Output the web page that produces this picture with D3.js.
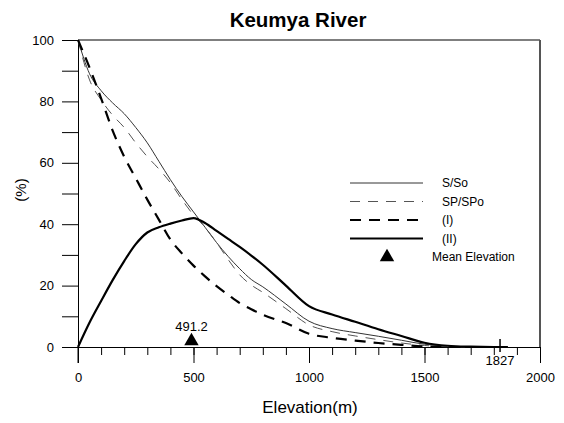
<!DOCTYPE html>
<html lang="en">
  <head>
    <meta charset="utf-8">
    <title>Keumya River</title>
    <script src="https://d3js.org/d3.v7.min.js"></script>
    <style>
      body { margin: 0; background: #fff; font-family: 'Liberation Sans', Arial, sans-serif; }
      svg text { font-family: 'Liberation Sans', Arial, sans-serif; fill: #000; }
      .axis path, .axis line { stroke: #000; }
    </style>
  </head>
  <body>
    <div id="chart"></div>
    <script>
      // elevation (m) sample points
      var elev = [0, 50, 100, 150, 200, 250, 300, 350, 400, 450, 500, 550, 600, 650, 700, 750, 800, 900, 1000, 1100, 1200, 1300, 1400, 1500, 1600, 1700, 1800, 1860];
      // S/So (%)
      var sSo  = [100, 89, 83.5, 79.5, 76, 71.5, 66.5, 60.5, 54.5, 49, 44, 39, 34, 29.5, 25.5, 22, 19.6, 14, 8.4, 6, 4.7, 3.5, 2.2, 0.9, 0.3, 0.1, 0, 0];
      // SP/SPo (%)
      var spSpo = [100, 87, 80.5, 75.5, 71.5, 66.5, 62, 58, 53.5, 48, 43, 39, 34, 28.5, 23.5, 20.2, 17.8, 12.5, 7.2, 5, 3.6, 2.4, 1.3, 0.5, 0.1, 0, 0, 0];
      // (I)
      var typeI = [100, 91, 81, 70.5, 62, 55, 48, 41.5, 35, 30.5, 26.5, 23, 19.8, 17, 14.3, 12.3, 10.5, 7.8, 4.3, 3, 2.1, 1.3, 0.7, 0.2, 0, 0, 0, 0];
      // (II)
      var typeII = [0, 8, 15, 21.8, 28, 33.5, 37.3, 39, 40.2, 41.2, 42, 40.4, 37.8, 35.2, 32.6, 29.8, 26.8, 20, 13.3, 10.6, 8.2, 5.8, 3.6, 1.4, 0.4, 0.1, 0, 0];

      var meanElev = 491.2;
      var maxElev = 1827;
      var yTicks = [0, 10, 20, 30, 40, 50, 60, 70, 80, 90, 100];
      var xMajor = [0, 500, 1000, 1500, 2000];
      var xMinor = d3.range(0, 2001, 100);

      var series = [
        {name: "S/So",   values: sSo,    color: "#333", width: 1,   dash: null},
        {name: "SP/SPo", values: spSpo,  color: "#555", width: 1,   dash: "10,8"},
        {name: "(I)",    values: typeI,  color: "#000", width: 2.2, dash: "11,8"},
        {name: "(II)",   values: typeII, color: "#000", width: 2.2, dash: null}
      ];

      var W = 564, H = 423;
      var svg = d3.select("#chart").append("svg")
        .attr("width", W).attr("height", H);

      var x = d3.scaleLinear().domain([0, 2000]).range([78, 540]);
      var y = d3.scaleLinear().domain([0, 100]).range([347, 40]);

      // title
      svg.append("text")
        .attr("x", 298).attr("y", 27)
        .attr("text-anchor", "middle")
        .style("font-size", "20.5px").style("font-weight", "bold")
        .text("Keumya River");

      // frame: top and right
      svg.append("line").attr("x1", x(0)).attr("x2", x(2000)).attr("y1", y(100)).attr("y2", y(100))
        .attr("stroke", "#000").attr("stroke-width", 1.2);
      svg.append("line").attr("x1", x(2000)).attr("x2", x(2000)).attr("y1", y(100)).attr("y2", y(0))
        .attr("stroke", "#555").attr("stroke-width", 2);

      // y axis
      var yAxis = d3.axisLeft(y).tickValues(yTicks).tickSize(16).tickSizeOuter(0).tickPadding(8)
        .tickFormat(function(d) { return d % 20 === 0 ? d : ""; });
      var gy = svg.append("g").attr("class", "axis").attr("transform", "translate(" + x(0) + ",0)").call(yAxis);
      gy.selectAll("text").style("font-size", "13px");

      // x axis minor ticks
      var xAxisMinor = d3.axisBottom(x).tickValues(xMinor).tickSize(8).tickSizeOuter(0).tickFormat("");
      svg.append("g").attr("class", "axis").attr("transform", "translate(0," + y(0) + ")").call(xAxisMinor);

      // x axis major ticks
      var xAxis = d3.axisBottom(x).tickValues(xMajor).tickSize(16).tickSizeOuter(0).tickPadding(10)
        .tickFormat(d3.format("d"));
      var gx = svg.append("g").attr("class", "axis").attr("transform", "translate(0," + y(0) + ")").call(xAxis);
      gx.select(".domain").remove();
      gx.selectAll("text").style("font-size", "13px");
      // extend y axis below baseline
      svg.append("line").attr("x1", x(0)).attr("x2", x(0)).attr("y1", y(0)).attr("y2", y(0) + 16).attr("stroke", "#000");

      svg.append("text")
        .attr("x", 310).attr("y", 413)
        .attr("text-anchor", "middle")
        .style("font-size", "17px")
        .text("Elevation(m)");

      svg.append("text")
        .attr("transform", "translate(26,190) rotate(-90)")
        .attr("text-anchor", "middle")
        .style("font-size", "15px")
        .text("(%)");

      // curves
      var line = d3.line()
        .x(function(d) { return x(d[0]); })
        .y(function(d) { return y(d[1]); })
        .curve(d3.curveMonotoneX);

      series.forEach(function(s) {
        svg.append("path")
          .datum(elev.map(function(e, i) { return [e, s.values[i]]; }))
          .attr("d", line)
          .attr("fill", "none")
          .attr("stroke", s.color)
          .attr("stroke-width", s.width)
          .attr("stroke-dasharray", s.dash);
      });

      // mean elevation marker
      var tri = d3.symbol().type(d3.symbolTriangle).size(90);
      svg.append("path")
        .attr("d", tri)
        .attr("transform", "translate(" + x(meanElev) + "," + (y(0) - 6) + ")")
        .attr("fill", "#000");
      svg.append("text")
        .attr("x", x(meanElev)).attr("y", y(0) - 16)
        .attr("text-anchor", "middle").style("font-size", "13px")
        .text(meanElev.toFixed(1));

      // max elevation marker
      svg.append("line")
        .attr("x1", x(maxElev)).attr("x2", x(maxElev))
        .attr("y1", y(0) - 8).attr("y2", y(0) + 5)
        .attr("stroke", "#000").attr("stroke-width", 1.5);
      svg.append("text")
        .attr("x", x(maxElev)).attr("y", y(0) + 18)
        .attr("text-anchor", "middle").style("font-size", "13px")
        .text(maxElev);

      // legend
      var leg = svg.append("g").attr("transform", "translate(350,183)");
      series.forEach(function(s, i) {
        var g = leg.append("g").attr("transform", "translate(0," + (i * 18.5) + ")");
        g.append("line").attr("x1", 0).attr("x2", 73)
          .attr("stroke", s.color).attr("stroke-width", s.width)
          .attr("stroke-dasharray", s.dash);
        g.append("text").attr("x", 92).attr("y", 4).style("font-size", "12px").text(s.name);
      });
      var gm = leg.append("g").attr("transform", "translate(0," + (4 * 18.5) + ")");
      gm.append("path").attr("d", tri).attr("transform", "translate(37,0)").attr("fill", "#000");
      gm.append("text").attr("x", 82).attr("y", 4).style("font-size", "12px").text("Mean Elevation");
    </script>
  </body>
</html>
